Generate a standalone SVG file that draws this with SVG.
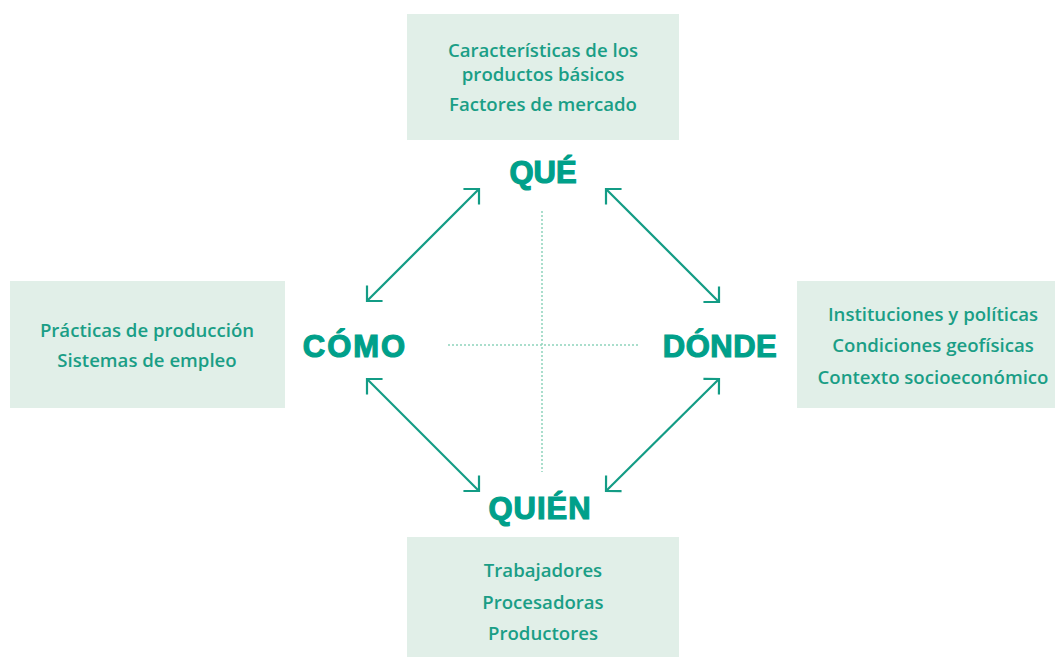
<svg xmlns="http://www.w3.org/2000/svg" width="1055" height="657" viewBox="0 0 1055 657">
<style>
.box{fill:#e1efe8}
.t{font-family:"Open Sans",Lato,sans-serif;font-weight:600;font-size:18.6px;fill:#1a9e86;text-anchor:middle}
.h{font-family:"Liberation Sans",Arial,sans-serif;font-weight:700;font-size:31px;fill:#00a08a;stroke:#00a08a;stroke-width:1.2;text-anchor:middle}
.arr{stroke:#139c85;stroke-width:2.2;fill:none;marker-start:url(#ah);marker-end:url(#ah)}
.dot{stroke:#8fd4bc;stroke-width:1.5;stroke-dasharray:2 2;fill:none}
</style>
<defs>
<marker id="ah" markerUnits="userSpaceOnUse" markerWidth="30" markerHeight="30" viewBox="-15 -15 30 30" refX="0" refY="0" orient="auto-start-reverse">
<path d="M-11,-11 L0,0 L-11,11" fill="none" stroke="#139c85" stroke-width="2.2"/>
</marker>
</defs>
<g id="connectors">
<line class="dot" x1="542" y1="211" x2="542" y2="472"/>
<line class="dot" x1="448" y1="345" x2="638" y2="345"/>
<line class="arr" x1="367" y1="301" x2="479" y2="189"/>
<line class="arr" x1="606" y1="189" x2="719" y2="302"/>
<line class="arr" x1="367" y1="379" x2="479" y2="491"/>
<line class="arr" x1="719" y1="379" x2="606" y2="491"/>
</g>
<g id="que-box">
<rect class="box" x="407" y="14" width="272" height="126"/>
<text class="t" x="543" y="57">Características de los</text>
<text class="t" x="543" y="81">productos básicos</text>
<text class="t" x="543" y="111">Factores de mercado</text>
</g>
<g id="que"><text class="h" x="543" y="183">QUÉ</text></g>
<g id="como-box">
<rect class="box" x="10" y="281" width="275" height="127"/>
<text class="t" x="147" y="337">Prácticas de producción</text>
<text class="t" x="147" y="367">Sistemas de empleo</text>
</g>
<g id="como"><text class="h" x="355" y="357" letter-spacing="2">CÓMO</text></g>
<g id="donde-box">
<rect class="box" x="797" y="281" width="258" height="127"/>
<text class="t" x="933" y="321">Instituciones y políticas</text>
<text class="t" x="933" y="352">Condiciones geofísicas</text>
<text class="t" x="933" y="384">Contexto socioeconómico</text>
</g>
<g id="donde"><text class="h" x="720" y="357" letter-spacing="0.5">DÓNDE</text></g>
<g id="quien"><text class="h" x="540" y="519" letter-spacing="1">QUIÉN</text></g>
<g id="quien-box">
<rect class="box" x="407" y="537" width="272" height="120"/>
<text class="t" x="543" y="577">Trabajadores</text>
<text class="t" x="543" y="609">Procesadoras</text>
<text class="t" x="543" y="640">Productores</text>
</g>
</svg>
